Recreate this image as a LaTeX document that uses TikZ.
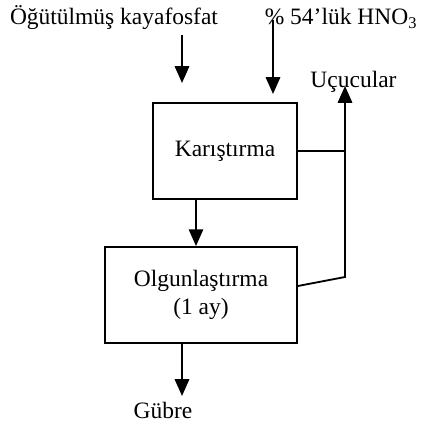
\documentclass[tikz,border=0pt]{standalone}
\usepackage{fontspec}
\setmainfont{Liberation Serif}
\usetikzlibrary{arrows.meta, positioning}

\begin{document}
\begin{tikzpicture}[box/.style={draw,line width=1.3pt,minimum height=2.4cm,align=center,inner sep=0pt},
        flow/.style={line width=1.3pt,-{Triangle[length=0.42cm,width=0.36cm]}},
        lbl/.style={anchor=base,inner sep=0pt},
        font=\fontsize{16.7}{20}\selectfont]
        \useasboundingbox (0,0) rectangle (10.625,10.625);
        % process boxes
        \node[box,minimum width=3.6cm] (kar) at (5.625,6.85) {Karıştırma};
        \node[box,minimum width=4.8cm] (olg) at (5.025,3.25) {Olgunlaştırma\\(1 ay)};
        % labels
        \node[lbl] (feed) at (2.85,10.0) {Öğütülmüş kayafosfat};
        \node[lbl] (acid) at (8.525,10.0) {\% 54’lük HNO\textsubscript{3}};
        \node[lbl] (ucu) at (8.8375,8.425) {Uçucular};
        \node[lbl] (gub) at (4.075,0.15) {Gübre};
        % arrow ends
        \coordinate (a1) at (4.55,9.75);
        \coordinate (a1e) at (4.55,8.55);
        \coordinate (a2) at (6.825,10.125);
        \coordinate (a2e) at (6.825,8.275);
        \coordinate (mid) at (4.9,0);
        \coordinate (out) at (4.55,0.725);
        \coordinate (knee) at (8.625,3.7);
        \coordinate (tip) at (8.625,8.475);
        \draw[flow] (a1) -- (a1e);
        \draw[flow] (a2) -- (a2e);
        \draw[flow] (kar.south -| mid) -- (olg.north -| mid);
        \draw[flow] (olg.south -| out) -- (out);
        \draw[line width=1.3pt] (kar.east) -- (kar.east -| knee);
        \draw[flow] ([yshift=0.225cm]olg.east) -- (knee) -- (tip);
    \end{tikzpicture}
\end{document}
